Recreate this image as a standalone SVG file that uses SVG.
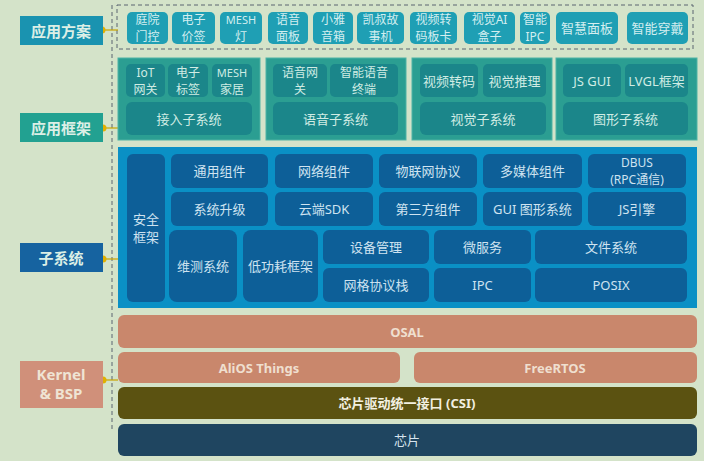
<svg xmlns="http://www.w3.org/2000/svg" width="704" height="461" viewBox="0 0 704 461">
<style>
text{font-family:"Noto Sans","Noto Sans CJK SC",sans-serif;text-anchor:middle;dominant-baseline:central}
.lbl{font-size:15px;font-weight:bold;fill:#dcefe6}
.app{fill:#1f9fb4}
.appt{font-size:12px;fill:#d3eef0}
.fp{fill:#2b9e92;stroke:#4fb3a5;stroke-width:1}
.ft{fill:#1b868a}
.ftt{font-size:13px;fill:#d0ece4}
.ft2{font-size:12px;fill:#d0ece4}
.sp{fill:#0a90c5}
.st{fill:#0d5f98}
.stt{font-size:13px;fill:#cfe3f0}
.st2{font-size:12px;fill:#cfe3f0}
.sal{fill:#c9876c}
.salt{font-size:13px;font-weight:bold;fill:#efdfcf}
.dot{fill:#e0b000}
.cl{stroke:#c8a400;stroke-width:1.2}
</style>
<rect width="704" height="461" fill="#d4e3c9"/>

<g id="connectors">
<line x1="112" y1="5" x2="112" y2="432" stroke="#5a6470" stroke-width="1" stroke-dasharray="4,3"/>
<rect x="117" y="5" width="576" height="44" fill="none" stroke="#5a6470" stroke-width="1" stroke-dasharray="4,3"/>
<line class="cl" x1="102" y1="30" x2="118" y2="30"/><circle class="dot" cx="102" cy="30" r="3.5"/>
<line class="cl" x1="103" y1="128" x2="118" y2="128"/><circle class="dot" cx="103" cy="128" r="3.5"/>
<line class="cl" x1="103" y1="259" x2="118" y2="259"/><circle class="dot" cx="103" cy="259" r="3.5"/>
<line class="cl" x1="103" y1="380" x2="118" y2="380"/><circle class="dot" cx="103" cy="380" r="3.5"/>
</g>

<g id="label-app-solution"><rect x="20" y="16" width="83" height="29" fill="#1a93b0"/><text class="lbl" x="61" y="30.5">应用方案</text></g>
<g id="label-app-framework"><rect x="20" y="113" width="83" height="29" fill="#22a191"/><text class="lbl" x="61" y="127.5">应用框架</text></g>
<g id="label-subsystem"><rect x="20" y="243" width="83" height="29" fill="#1663a0"/><text class="lbl" x="61" y="257.5">子系统</text></g>
<g id="label-kernel"><rect x="20" y="361" width="83" height="47" fill="#d0907a"/><text class="lbl" style="fill:#efe4d4" x="61" y="374">Kernel</text><text class="lbl" style="fill:#efe4d4" x="61" y="393">&amp; BSP</text></g>

<g id="app-tiles">
<g id="a1"><rect class="app" x="127" y="12" width="41" height="32" rx="5"/><text class="appt" x="147.5" y="19.5">庭院</text><text class="appt" x="147.5" y="36.5">门控</text></g>
<g id="a2"><rect class="app" x="172" y="12" width="43" height="32" rx="5"/><text class="appt" x="193.5" y="19.5">电子</text><text class="appt" x="193.5" y="36.5">价签</text></g>
<g id="a3"><rect class="app" x="220" y="12" width="42" height="32" rx="5"/><text class="appt" style="font-size:11px" x="241" y="19.5">MESH</text><text class="appt" x="241" y="36.5">灯</text></g>
<g id="a4"><rect class="app" x="268" y="12" width="40" height="32" rx="5"/><text class="appt" x="288" y="19.5">语音</text><text class="appt" x="288" y="36.5">面板</text></g>
<g id="a5"><rect class="app" x="313" y="12" width="40" height="32" rx="5"/><text class="appt" x="333" y="19.5">小雅</text><text class="appt" x="333" y="36.5">音箱</text></g>
<g id="a6"><rect class="app" x="357" y="12" width="47" height="32" rx="5"/><text class="appt" x="380.5" y="19.5">凯叔故</text><text class="appt" x="380.5" y="36.5">事机</text></g>
<g id="a7"><rect class="app" x="410" y="12" width="47" height="32" rx="5"/><text class="appt" x="433.5" y="19.5">视频转</text><text class="appt" x="433.5" y="36.5">码板卡</text></g>
<g id="a8"><rect class="app" x="464" y="12" width="51" height="32" rx="5"/><text class="appt" x="489.5" y="19.5">视觉AI</text><text class="appt" x="489.5" y="36.5">盒子</text></g>
<g id="a9"><rect class="app" x="520" y="12" width="30" height="32" rx="5"/><text class="appt" x="535" y="19.5">智能</text><text class="appt" x="535" y="36.5">IPC</text></g>
<g id="a10"><rect class="app" x="556" y="12" width="62" height="32" rx="5"/><text class="appt" style="font-size:13px" x="587" y="28">智慧面板</text></g>
<g id="a11"><rect class="app" x="627" y="12" width="61" height="32" rx="5"/><text class="appt" style="font-size:13px" x="657.5" y="28">智能穿戴</text></g>
</g>

<g id="fw-access">
<rect class="fp" x="118" y="58" width="142" height="82"/>
<rect class="ft" x="126" y="64" width="39" height="33" rx="5"/><text class="ft2" x="145.5" y="72">IoT</text><text class="ft2" x="145.5" y="89">网关</text>
<rect class="ft" x="168" y="64" width="40" height="33" rx="5"/><text class="ft2" x="188" y="72">电子</text><text class="ft2" x="188" y="89">标签</text>
<rect class="ft" x="212" y="64" width="40" height="33" rx="5"/><text class="ft2" style="font-size:11px" x="232" y="72">MESH</text><text class="ft2" x="232" y="89">家居</text>
<rect class="ft" x="126" y="102" width="126" height="33" rx="6"/><text class="ftt" x="189" y="118.5">接入子系统</text>
</g>
<g id="fw-voice">
<rect class="fp" x="266" y="58" width="140" height="82"/>
<rect class="ft" x="273" y="64" width="54" height="33" rx="5"/><text class="ft2" x="300" y="72">语音网</text><text class="ft2" x="300" y="89">关</text>
<rect class="ft" x="330" y="64" width="68" height="33" rx="5"/><text class="ft2" x="364" y="72">智能语音</text><text class="ft2" x="364" y="89">终端</text>
<rect class="ft" x="273" y="102" width="125" height="33" rx="6"/><text class="ftt" x="335.5" y="118.5">语音子系统</text>
</g>
<g id="fw-vision">
<rect class="fp" x="412" y="58" width="140" height="82"/>
<rect class="ft" x="420" y="64" width="58" height="33" rx="5"/><text class="ftt" x="449" y="80.5">视频转码</text>
<rect class="ft" x="483" y="64" width="63" height="33" rx="5"/><text class="ftt" x="514.5" y="80.5">视觉推理</text>
<rect class="ft" x="420" y="102" width="126" height="33" rx="6"/><text class="ftt" x="483" y="118.5">视觉子系统</text>
</g>
<g id="fw-graphics">
<rect class="fp" x="556" y="58" width="141" height="82"/>
<rect class="ft" x="563" y="64" width="58" height="33" rx="5"/><text class="ftt" x="592" y="80.5">JS GUI</text>
<rect class="ft" x="625" y="64" width="63" height="33" rx="5"/><text class="ftt" x="656.5" y="80.5">LVGL框架</text>
<rect class="ft" x="563" y="102" width="125" height="33" rx="6"/><text class="ftt" x="625.5" y="118.5">图形子系统</text>
</g>

<g id="subsystem">
<rect class="sp" x="118" y="147" width="579" height="161"/>
<g id="s-sec"><rect class="st" x="127" y="154" width="38" height="148" rx="6"/><text class="stt" x="146" y="219">安全</text><text class="stt" x="146" y="237">框架</text></g>
<g id="s1"><rect class="st" x="171" y="154" width="97" height="34" rx="6"/><text class="stt" x="219.5" y="171">通用组件</text></g>
<g id="s2"><rect class="st" x="275" y="154" width="98" height="34" rx="6"/><text class="stt" x="324" y="171">网络组件</text></g>
<g id="s3"><rect class="st" x="379" y="154" width="98" height="34" rx="6"/><text class="stt" x="428" y="171">物联网协议</text></g>
<g id="s4"><rect class="st" x="483" y="154" width="99" height="34" rx="6"/><text class="stt" x="532.5" y="171">多媒体组件</text></g>
<g id="s5"><rect class="st" x="588" y="154" width="98" height="34" rx="6"/><text class="st2" x="637" y="162.5">DBUS</text><text class="st2" x="637" y="179.5">(RPC通信)</text></g>
<g id="s6"><rect class="st" x="171" y="192" width="97" height="34" rx="6"/><text class="stt" x="219.5" y="209">系统升级</text></g>
<g id="s7"><rect class="st" x="275" y="192" width="98" height="34" rx="6"/><text class="stt" x="324" y="209">云端SDK</text></g>
<g id="s8"><rect class="st" x="379" y="192" width="98" height="34" rx="6"/><text class="stt" x="428" y="209">第三方组件</text></g>
<g id="s9"><rect class="st" x="483" y="192" width="99" height="34" rx="6"/><text class="stt" x="532.5" y="209">GUI 图形系统</text></g>
<g id="s10"><rect class="st" x="588" y="192" width="98" height="34" rx="6"/><text class="stt" x="637" y="209">JS引擎</text></g>
<g id="s11"><rect class="st" x="169" y="230" width="68" height="72" rx="8"/><text class="stt" x="203" y="266">维测系统</text></g>
<g id="s12"><rect class="st" x="243" y="230" width="75" height="72" rx="8"/><text class="stt" x="280.5" y="266">低功耗框架</text></g>
<g id="s13"><rect class="st" x="323" y="230" width="106" height="34" rx="6"/><text class="stt" x="376" y="247">设备管理</text></g>
<g id="s14"><rect class="st" x="323" y="268" width="106" height="34" rx="6"/><text class="stt" x="376" y="285">网格协议栈</text></g>
<g id="s15"><rect class="st" x="434" y="230" width="97" height="34" rx="6"/><text class="stt" x="482.5" y="247">微服务</text></g>
<g id="s16"><rect class="st" x="434" y="268" width="97" height="34" rx="6"/><text class="stt" x="482.5" y="285">IPC</text></g>
<g id="s17"><rect class="st" x="535" y="230" width="152" height="34" rx="6"/><text class="stt" x="611" y="247">文件系统</text></g>
<g id="s18"><rect class="st" x="535" y="268" width="152" height="34" rx="6"/><text class="stt" x="611" y="285">POSIX</text></g>
</g>

<g id="osal"><rect class="sal" x="118" y="315" width="579" height="33" rx="6"/><text class="salt" x="407" y="331.5">OSAL</text></g>
<g id="alios"><rect class="sal" x="118" y="352" width="282" height="31" rx="6"/><text class="salt" x="259" y="367.5">AliOS Things</text></g>
<g id="freertos"><rect class="sal" x="414" y="352" width="283" height="31" rx="6"/><text class="salt" x="555" y="367.5">FreeRTOS</text></g>
<g id="csi"><rect x="118" y="387" width="579" height="32" rx="6" fill="#5b5211"/><text x="407" y="403" style="font-size:13px;font-weight:bold;fill:#f2efe0">芯片驱动统一接口 (CSI)</text></g>
<g id="chip"><rect x="118" y="424" width="579" height="32" rx="6" fill="#1f4560"/><text x="407" y="440" style="font-size:13px;fill:#d8e4ee">芯片</text></g>
</svg>
